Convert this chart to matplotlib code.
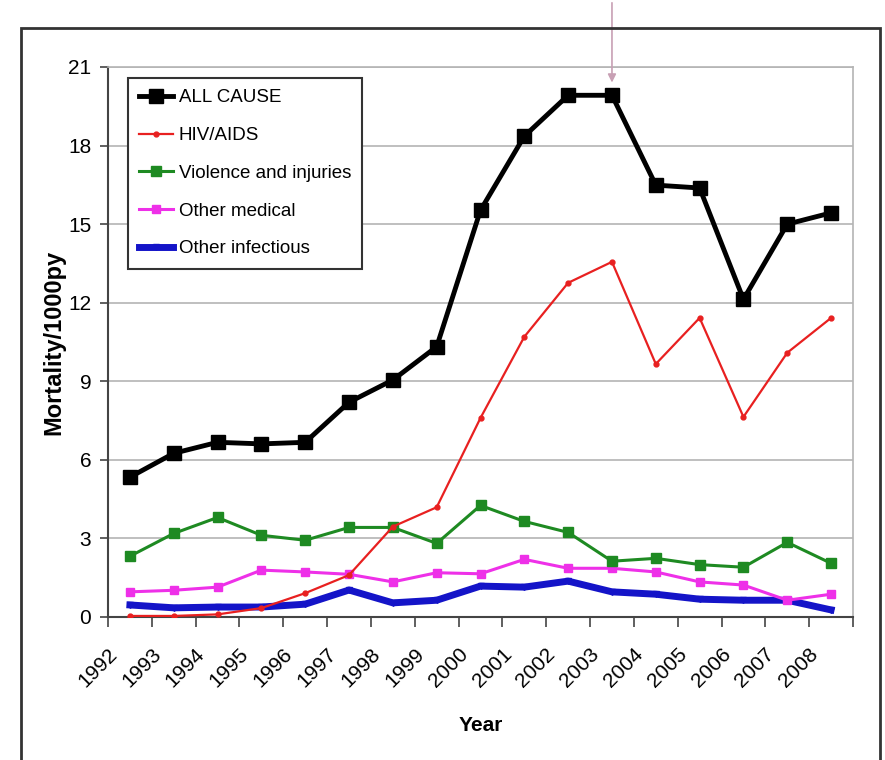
import matplotlib
matplotlib.use("Agg")
import matplotlib.pyplot as plt
import matplotlib.patches as mpatches
import matplotlib.transforms as mtransforms
import numpy as np

years = [str(y) for y in range(1992, 2009)]
all_cause = [5.34, 6.25, 6.67, 6.61, 6.67, 8.2, 9.05, 10.32, 15.53, 18.36, 19.92, 19.92, 16.49, 16.38, 12.13, 15.0, 15.43]
hiv_aids = [0.04, 0.04, 0.1, 0.34, 0.91, 1.6, 3.45, 4.19, 7.6, 10.7, 12.76, 13.56, 9.66, 11.42, 7.64, 10.09, 11.42]
violence = [2.32, 3.19, 3.8, 3.12, 2.93, 3.42, 3.42, 2.81, 4.26, 3.65, 3.23, 2.13, 2.24, 2.0, 1.9, 2.85, 2.05]
other_medical = [0.96, 1.02, 1.14, 1.79, 1.72, 1.63, 1.34, 1.69, 1.65, 2.2, 1.86, 1.86, 1.72, 1.34, 1.22, 0.64, 0.87]
other_infectious = [0.46, 0.35, 0.38, 0.38, 0.49, 1.03, 0.54, 0.64, 1.18, 1.14, 1.37, 0.96, 0.87, 0.68, 0.64, 0.64, 0.27]
y_ticks = list(range(0, 22, 3))

plt.rcParams["font.family"] = ["Liberation Sans", "DejaVu Sans"]

fig = plt.figure(figsize=(8.85, 7.6), dpi=100)
ax = fig.add_axes([108 / 885, 1 - 617 / 760, 745 / 885, 550 / 760])

x = np.arange(len(years))
ax.plot(x, all_cause, color="black", lw=3.5, marker="s", ms=10, label="ALL CAUSE", zorder=6)
ax.plot(x, hiv_aids, color="#e82020", lw=1.6, marker="o", ms=3.5, label="HIV/AIDS", zorder=5)
ax.plot(x, violence, color="#1e8a22", lw=2.2, marker="s", ms=7, label="Violence and injuries", zorder=4)
ax.plot(x, other_medical, color="#ee30e8", lw=2.2, marker="s", ms=6, label="Other medical", zorder=3)
ax.plot(x, other_infectious, color="#1414c8", lw=5, marker="v", ms=4, label="Other infectious", zorder=2)

ax.set_xlim(-0.5, len(years) - 0.5)
ax.set_ylim(0, 21)
ax.set_yticks(y_ticks)
ax.yaxis.grid(True, color="#b4b4b4", lw=1.2)
ax.set_axisbelow(True)

ax.set_xticks(x)
ax.set_xticklabels(years, rotation=45, ha="right", va="top", fontsize=15)
ax.set_xticks(np.arange(-0.5, len(years), 1), minor=True)
ax.tick_params(axis="x", which="major", length=0, pad=20)
ax.tick_params(axis="x", which="minor", length=7, width=1.2, color="#444444", direction="out")
ax.tick_params(axis="y", length=6, width=1.2, color="#444444", direction="out", labelsize=15, pad=6)
shift = mtransforms.ScaledTranslation(-0.09, 0, fig.dpi_scale_trans)
for lbl in ax.get_xticklabels():
    lbl.set_transform(lbl.get_transform() + shift)

for side in ["left", "bottom"]:
    ax.spines[side].set_color("#444444")
    ax.spines[side].set_linewidth(1.5)
for side in ["top", "right"]:
    ax.spines[side].set_color("#b4b4b4")
    ax.spines[side].set_linewidth(1.2)

ax.set_ylabel("Mortality/1000py", fontsize=17, fontweight="bold", labelpad=2)
ax.set_xlabel("Year", fontsize=15, fontweight="bold", labelpad=18)

leg = ax.legend(loc="upper left", bbox_to_anchor=(0.027, 0.98), borderaxespad=0, fontsize=13.5,
                frameon=True, fancybox=False, edgecolor="#333333", framealpha=1,
                handlelength=1.8, handletextpad=0.3, labelspacing=1.1, borderpad=0.6)
leg.get_frame().set_linewidth(1.5)

# arrow pointing at the 2003 peak
ax.annotate("", xy=(11, 20.3), xytext=(11, 1.0), textcoords=("data", "figure fraction"),
            arrowprops=dict(arrowstyle="-|>", color="#c8a0b4", lw=1.2, mutation_scale=12),
            annotation_clip=False, zorder=10)

# outer frame
frame = mpatches.Rectangle((21 / 885, -0.02), 859 / 885, 1 - 28 / 760 + 0.02, transform=fig.transFigure,
                           fill=False, edgecolor="#333333", lw=2)
fig.patches.append(frame)

fig.savefig("out.png", dpi=100)
